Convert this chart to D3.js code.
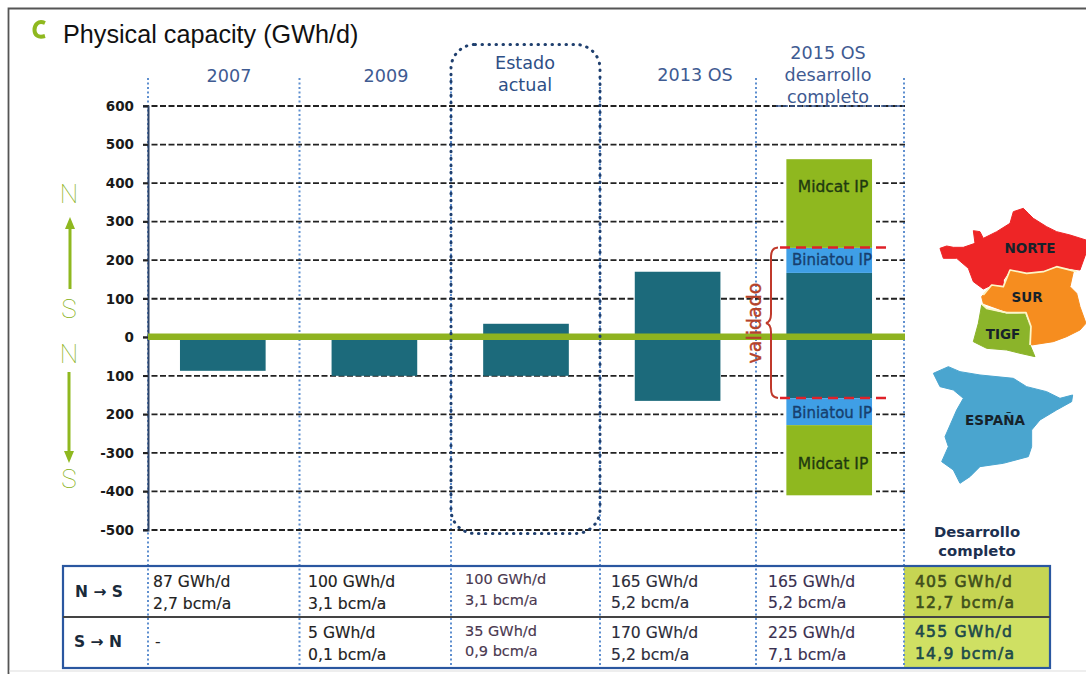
<!DOCTYPE html>
<html><head><meta charset="utf-8">
<script src="https://cdn.jsdelivr.net/npm/d3@7"></script>
<style>html,body{margin:0;padding:0;background:#fff}svg{display:block}text{font-family:"DejaVu Sans",sans-serif}</style>
</head><body><div id="c"></div>
<script>
const categories = ["2007","2009","Estado actual","2013 OS","2015 OS desarrollo completo"];
const southNorthBase = [0,0,35,170,167];
const northSouthBase = [87,100,100,165,158];
const biniatouUp = [0,0,0,0,65];
const biniatouDown = [0,0,0,0,70];
const midcatUp = [0,0,0,0,230];
const midcatDown = [0,0,0,0,182];
const tickValues = [600,500,400,300,200,100,0,-100,-200,-300,-400,-500];
const tickLabels = ["600","500","400","300","200","100","0","100","200","-300","-400","-500"];
const headerLines = [["2007"],["2009"],["Estado","actual"],["2013 OS"],["2015 OS","desarrollo","completo"]];
const nsGwh = ["87 GWh/d","100 GWh/d","100 GWh/d","165 GWh/d","165 GWh/d","405 GWh/d"];
const nsBcm = ["2,7 bcm/a","3,1 bcm/a","3,1 bcm/a","5,2 bcm/a","5,2 bcm/a","12,7 bcm/a"];
const snGwh = ["-","5 GWh/d","35 GWh/d","170 GWh/d","225 GWh/d","455 GWh/d"];
const snBcm = ["","0,1 bcm/a","0,9 bcm/a","5,2 bcm/a","7,1 bcm/a","14,9 bcm/a"];

const W=1086,H=674;
const svg=d3.select("#c").append("svg").attr("width",W).attr("height",H).attr("viewBox",[0,0,W,H]);
const y=d3.scaleLinear().domain([-500,600]).range([530,106]);
const x=d3.scaleBand().domain(categories).range([147,905]).paddingInner(0.435).paddingOuter(0.2175);
const teal="#1c6a7b",lime="#8fb81f",sky="#3f9fe6",navy="#1f3f6e",head="#3f5b92";

// frame
svg.append("path").attr("d","M8.5,674V8.5H1086").attr("fill","none").attr("stroke","#555").attr("stroke-width",1.8);
svg.append("path").attr("d","M9,671H1086").attr("fill","none").attr("stroke","#ddd").attr("stroke-width",1);

// title
svg.append("path").attr("d","M45,23C38,20 34.5,25 34.5,30C34.5,35 38,38 45,36").attr("fill","none").attr("stroke",lime).attr("stroke-width",4);
svg.append("text").attr("x",63).attr("y",43).attr("fill","#111").attr("font-size",25.2).attr("style",'font-family:"Liberation Sans"').text("Physical capacity (GWh/d)");

// highlight cells
const tblL=63,tblR=1050,tblT=566,tblM=617,tblB=668;
const colEdge=[148,299.5,451,600,756,904];
svg.append("rect").attr("x",904).attr("y",tblT).attr("width",tblR-904).attr("height",tblM-tblT).attr("fill","#c6d553");
svg.append("rect").attr("x",904).attr("y",tblM).attr("width",tblR-904).attr("height",tblB-tblM).attr("fill","#cfe063");

// vertical dotted separators
svg.append("g").selectAll("line").data(colEdge).join("line")
 .attr("x1",d=>d).attr("x2",d=>d).attr("y1",78).attr("y2",tblB)
 .attr("stroke","#5f8fcf").attr("stroke-width",2).attr("stroke-dasharray","2 2.5");

// grid
svg.append("g").selectAll("line").data(tickValues).join("line")
 .attr("x1",143).attr("x2",905).attr("y1",d=>y(d)).attr("y2",d=>y(d))
 .attr("stroke","#222").attr("stroke-width",1.8).attr("stroke-dasharray","6 2.5");

// axis
const ax=svg.append("g").attr("transform","translate(148,0)")
 .call(d3.axisLeft(y).tickValues(tickValues).tickSize(5).tickPadding(9).tickFormat((d,i)=>tickLabels[i]));
ax.select(".domain").attr("stroke","#2c4368").attr("stroke-width",2);
ax.selectAll(".tick line").attr("stroke","#222").attr("stroke-width",1.5);
ax.selectAll("text").attr("font-size",13.5).attr("font-weight",700).attr("fill","#1a1a1a")
 .attr("style",'font-family:"DejaVu Sans"');

// white halo beside the full-development column
const last=categories[4];
svg.append("rect").attr("x",x(last)-3).attr("width",x.bandwidth()+7)
 .attr("y",y(midcatUp[4]+biniatouUp[4]+southNorthBase[4])).attr("height",y(-(midcatDown[4]+biniatouDown[4]+northSouthBase[4]))-y(midcatUp[4]+biniatouUp[4]+southNorthBase[4]))
 .attr("fill","#fff");

// bars
const bars=svg.append("g");
categories.forEach((c,i)=>{
  const seg=(a,b,f)=>{ if(a===b) return; bars.append("rect").attr("x",x(c)).attr("width",x.bandwidth())
     .attr("y",y(Math.max(a,b))).attr("height",Math.abs(y(a)-y(b))).attr("fill",f); };
  const up=southNorthBase[i], dn=-northSouthBase[i];
  seg(dn,up,teal);
  seg(up,up+biniatouUp[i],sky);
  seg(up+biniatouUp[i],up+biniatouUp[i]+midcatUp[i],lime);
  seg(dn,dn-biniatouDown[i],sky);
  seg(dn-biniatouDown[i],dn-biniatouDown[i]-midcatDown[i],lime);
});

// zero line
svg.append("line").attr("x1",148).attr("x2",905).attr("y1",y(0)-0.5).attr("y2",y(0)-0.5).attr("stroke","#8fb320").attr("stroke-width",6.5);

// estado box
svg.append("rect").attr("x",451).attr("y",44.5).attr("width",149).attr("height",489).attr("rx",24).attr("fill","none")
 .attr("stroke",navy).attr("stroke-width",3).attr("stroke-linecap","round").attr("stroke-dasharray","0.5 6.5");

// headers
const headerX=[229,386,525,695,828], headerY=[[82],[82],[69,91],[81],[59,81,103]];
headerLines.forEach((ls,i)=>ls.forEach((t,j)=>{
 svg.append("text").attr("x",headerX[i]).attr("y",headerY[i][j]).attr("text-anchor","middle").attr("font-size",17.6).attr("fill",i===2?"#2d4f86":head).text(t);
}));
svg.append("line").attr("x1",776).attr("x2",904).attr("y1",y(600)).attr("y2",y(600)).attr("stroke","#3a5a92").attr("stroke-width",1.3).attr("stroke-dasharray","5 2");

// bar labels
[["Midcat IP",833,192],["Biniatou IP",832,265],["Biniatou IP",832,418],["Midcat IP",833,469]].forEach(([t,xx,yy],i)=>{
 const mid=i%3===0, col=mid?"#1f3a10":"#173f6e";
 svg.append("text").attr("x",xx).attr("y",yy).attr("text-anchor","middle").attr("font-size",mid?15.5:15)
  .attr("fill",col).attr("stroke",col).attr("stroke-width",0.35).text(t);
});

// validado bracket
const red="#c0392b";
svg.append("path").attr("d","M778,247.5C772,248 771,252 771,258V314C771,319 770,322 766,323C770,324 771,327 771,332V388C771,394 772,397 778,398")
 .attr("fill","none").attr("stroke",red).attr("stroke-width",2);
[247.5,398].forEach(v=>svg.append("line").attr("x1",780).attr("x2",887).attr("y1",v).attr("y2",v).attr("stroke","#df2229").attr("stroke-width",2.5).attr("stroke-dasharray","10 6"));
svg.append("text").attr("transform","translate(761,323) rotate(-90)").attr("text-anchor","middle").attr("font-size",19).attr("fill","#b5422a").attr("stroke","#b5422a").attr("stroke-width",0.4).text("validado");

// direction arrows
const thin=(t,yy)=>svg.append("text").attr("x",69).attr("y",yy).attr("text-anchor","middle").attr("font-size",26).attr("font-weight",100).attr("fill","#86b014").attr("style",'font-family:Roboto').text(t);
thin("N",203);thin("S",318);thin("N",363);thin("S",488);
svg.append("path").attr("d","M70,289V228").attr("stroke",lime).attr("stroke-width",3).attr("fill","none");
svg.append("path").attr("d","M70,217L75,229H65Z").attr("fill",lime);
svg.append("path").attr("d","M69,372V452").attr("stroke",lime).attr("stroke-width",3).attr("fill","none");
svg.append("path").attr("d","M69,463L74,451H64Z").attr("fill",lime);

// table
svg.append("rect").attr("x",tblL).attr("y",tblT).attr("width",tblR-tblL).attr("height",tblB-tblT).attr("fill","none").attr("stroke","#2a57a0").attr("stroke-width",2.2);
svg.append("line").attr("x1",tblL).attr("x2",tblR).attr("y1",tblM).attr("y2",tblM).attr("stroke","#444").attr("stroke-width",2);
svg.append("text").attr("x",99).attr("y",597).attr("text-anchor","middle").attr("font-size",15.5).attr("font-weight",700).attr("fill","#1a2a3a").text("N → S");
svg.append("text").attr("x",98).attr("y",647).attr("text-anchor","middle").attr("font-size",15.5).attr("font-weight",700).attr("fill","#1a2a3a").text("S → N");
const colX=[153,308,465,611,768,915];
const rowsY=[[587,609,647,660],[587,609,638,660],[584,605,636,656],[587,608,638,660],[587,608,638,660],[587,608,637,659]];
const cellFill=["#222","#222","#4a3850","#2c2c3a","#3a3050","#3f4f1c"];
colX.forEach((cxx,i)=>{
 [nsGwh,nsBcm,snGwh,snBcm].forEach((arr,r)=>{
  const col=i===5&&r>1?"#1c4a4a":cellFill[i];
  const t=svg.append("text").attr("x",cxx+(arr[i]==="-"?2:0)).attr("y",rowsY[i][r])
   .attr("font-size",i===2?14.5:15.6).attr("fill",col).attr("stroke",col).attr("stroke-width",i===5?0.6:0.15).text(arr[i]);
  if(i===5) t.attr("letter-spacing",1.2);
 });
});
svg.append("text").attr("x",977).attr("y",537).attr("text-anchor","middle").attr("font-size",14.8).attr("font-weight",700).attr("fill","#1c3050").text("Desarrollo");
svg.append("text").attr("x",977).attr("y",556).attr("text-anchor","middle").attr("font-size",14.8).attr("font-weight",700).attr("fill","#1c3050").text("completo");

// maps (decorative outlines, in zoomed map space)
const mapG=svg.append("g").attr("transform","translate(920,190) scale(0.3333)");
const outline=d3.line().curve(d3.curveLinearClosed);
const open=d3.line();
const norte=[[60,175],[80,168],[100,172],[130,172],[165,160],[160,122],[180,125],[190,145],[230,125],[270,100],[280,65],[310,55],[325,70],[340,85],[380,110],[410,125],[450,135],[498,150],[498,190],[480,240],[410,230],[370,245],[320,250],[270,240],[250,270],[250,290],[215,285],[190,297],[160,275],[145,235],[110,205],[70,205]];
const sur=[[185,320],[215,285],[250,290],[270,240],[320,250],[370,245],[410,230],[460,245],[450,290],[470,310],[480,350],[498,400],[480,420],[440,440],[400,455],[335,465],[335,420],[320,370],[260,365],[190,340]];
const tigf=[[185,345],[200,358],[260,372],[315,372],[330,410],[328,460],[345,500],[300,490],[260,480],[200,475],[160,455],[175,400]];
const espana=[[40,550],[85,530],[120,545],[180,555],[280,565],[320,590],[380,605],[420,625],[458,615],[455,635],[410,660],[360,690],[335,720],[335,770],[325,800],[250,820],[180,830],[150,860],[120,880],[100,840],[65,815],[85,770],[75,740],[110,660],[130,625],[100,600],[60,590]];
const seamNorth=[[190,315],[215,285],[250,290],[270,240],[320,250],[370,245],[410,230],[470,245]];
const seamTigf=[[185,342],[200,355],[260,368],[318,368],[333,410],[330,465]];
[[norte,"#ee2526"],[sur,"#f68d1f"],[tigf,"#8bb42a"],[espana,"#4aa5cf"]].forEach(([p,f])=>{
 mapG.append("path").attr("d",outline(p)).attr("fill",f).attr("stroke",f).attr("stroke-width",3).attr("stroke-linejoin","round");
});
[seamNorth,seamTigf].forEach(p=>mapG.append("path").attr("d",open(p)).attr("fill","none").attr("stroke","#fdf6c8").attr("stroke-width",5).attr("stroke-linejoin","round"));
[["NORTE",1030,253],["SUR",1027,302],["TIGF",1003,339],["ESPAÑA",995,425]].forEach(([t,a,b])=>{
 svg.append("text").attr("x",a).attr("y",b).attr("text-anchor","middle").attr("font-size",13.5).attr("font-weight",700).attr("fill","#16222a").text(t);
});
</script></body></html>
